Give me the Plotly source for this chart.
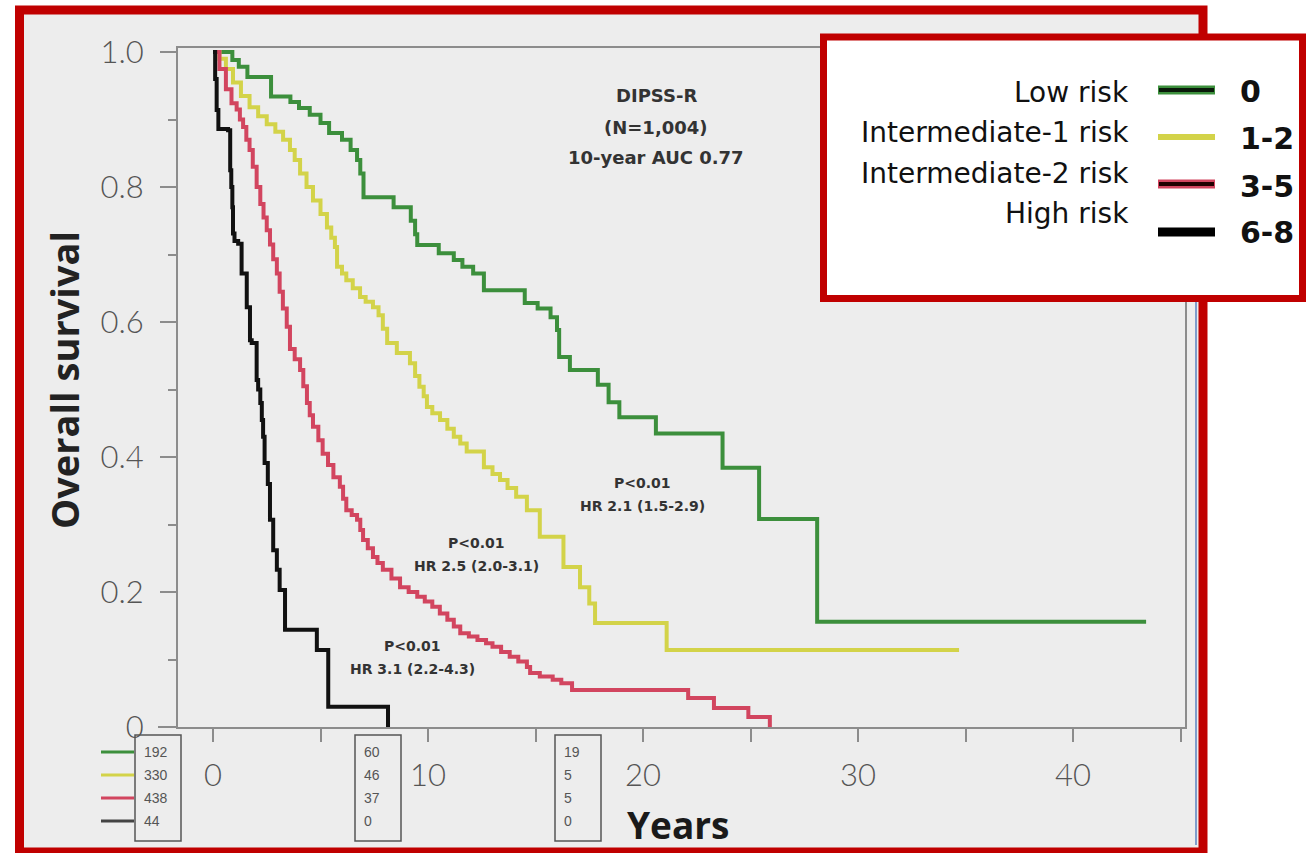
import plotly.graph_objects as go

# ---------------- data ----------------
green_t = [0, 0.9, 1.2, 1.6, 2.7, 3.6, 4.0, 4.5, 5.0, 5.4, 6.0, 6.4, 6.7, 6.85, 7.0,
           8.4, 9.2, 9.4, 9.5, 10.5, 11.2, 11.6, 12.1, 12.6, 14.5, 15.1, 15.7, 16.0,
           16.1, 16.6, 17.9, 18.4, 18.9, 20.6, 23.7, 25.4, 28.1, 43.4]
green_s = [1.0, 0.988, 0.978, 0.963, 0.934, 0.926, 0.917, 0.907, 0.895, 0.88, 0.87, 0.855,
           0.84, 0.82, 0.785, 0.77, 0.75, 0.73, 0.714, 0.702, 0.692, 0.682, 0.672, 0.647,
           0.628, 0.62, 0.607, 0.588, 0.548, 0.529, 0.507, 0.481, 0.459, 0.435, 0.384,
           0.308, 0.156, 0.156]

yellow_t = [0, 0.3, 0.6, 0.93, 1.3, 1.7, 2.1, 2.5, 2.9, 3.26, 3.58, 3.8, 4.05, 4.35, 4.65,
            5.0, 5.3, 5.5, 5.67, 5.77, 6.0, 6.2, 6.5, 6.84, 7.1, 7.44, 7.7, 7.9, 8.1, 8.55,
            9.16, 9.4, 9.6, 9.8, 9.95, 10.2, 10.56, 10.9, 11.2, 11.5, 11.8, 12.6, 13.0,
            13.35, 13.7, 14.1, 14.6, 15.2, 16.3, 17.07, 17.5, 17.77, 21.1, 34.7]
yellow_s = [1.0, 0.99, 0.975, 0.955, 0.935, 0.918, 0.905, 0.893, 0.882, 0.87, 0.855, 0.84,
            0.82, 0.8, 0.78, 0.76, 0.74, 0.725, 0.711, 0.682, 0.672, 0.662, 0.65, 0.637,
            0.63, 0.622, 0.61, 0.59, 0.569, 0.554, 0.539, 0.52, 0.504, 0.49, 0.474, 0.465,
            0.455, 0.442, 0.43, 0.42, 0.408, 0.385, 0.375, 0.366, 0.354, 0.341, 0.321,
            0.282, 0.237, 0.207, 0.183, 0.154, 0.114, 0.114]

red_t = [0, 0.3, 0.6, 0.86, 1.1, 1.25, 1.4, 1.55, 1.7, 1.85, 2.03, 2.2, 2.35, 2.5, 2.65,
         2.8, 2.97, 3.1, 3.25, 3.43, 3.58, 3.8, 4.05, 4.2, 4.37, 4.5, 4.65, 4.9, 5.1, 5.35,
         5.6, 5.9, 6.05, 6.2, 6.45, 6.7, 6.85, 6.98, 7.2, 7.44, 7.65, 7.9, 8.3, 8.7, 9.1,
         9.5, 9.85, 10.2, 10.55, 10.9, 11.2, 11.5, 11.9, 12.3, 12.7, 13.0, 13.4, 13.8,
         14.2, 14.6, 14.75, 15.2, 15.8, 16.2, 16.7, 22.1, 23.3, 24.9, 25.9]
red_s = [1.0, 0.975, 0.945, 0.924, 0.915, 0.9, 0.889, 0.87, 0.855, 0.83, 0.8, 0.775, 0.755,
         0.736, 0.715, 0.693, 0.672, 0.645, 0.62, 0.593, 0.56, 0.545, 0.529, 0.505, 0.48,
         0.462, 0.445, 0.425, 0.405, 0.388, 0.37, 0.356, 0.338, 0.321, 0.314, 0.307, 0.292,
         0.277, 0.265, 0.252, 0.243, 0.233, 0.22, 0.207, 0.2, 0.193, 0.186, 0.178, 0.168,
         0.159, 0.149, 0.139, 0.134, 0.129, 0.124, 0.119, 0.111, 0.104, 0.097, 0.089, 0.08,
         0.075, 0.07, 0.065, 0.055, 0.043, 0.028, 0.015, 0.0]

black_t = [0, 0.1, 0.17, 0.25, 0.7, 0.8, 0.85, 0.9, 0.93, 1.0, 1.17, 1.33, 1.57, 1.72, 1.8,
           2.03, 2.1, 2.2, 2.27, 2.33, 2.4, 2.55, 2.65, 2.8, 2.97, 3.1, 3.35, 4.83, 5.36, 8.14]
black_s = [1.0, 0.96, 0.914, 0.886, 0.884, 0.825, 0.8, 0.77, 0.731, 0.72, 0.716, 0.672,
           0.622, 0.573, 0.569, 0.514, 0.5, 0.48, 0.455, 0.43, 0.391, 0.36, 0.307, 0.262,
           0.233, 0.203, 0.144, 0.114, 0.03, 0.0]

risk_names = ["Low risk", "Intermediate-1 risk", "Intermediate-2 risk", "High risk"]
risk_scores = ["0", "1-2", "3-5", "6-8"]
at_risk_0 = [192, 330, 438, 44]
at_risk_10 = [60, 46, 37, 0]
at_risk_20 = [19, 5, 5, 0]

x_tick_vals = [0, 5, 10, 15, 20, 25, 30, 35, 40, 45]
x_tick_text = ["0", "", "10", "", "20", "", "30", "", "40", ""]
y_tick_vals = [0, 0.2, 0.4, 0.6, 0.8, 1.0]
y_tick_text = ["0", "0.2", "0.4", "0.6", "0.8", "1.0"]

hr_lines = [["P<0.01", "HR 2.1 (1.5-2.9)"], ["P<0.01", "HR 2.5 (2.0-3.1)"],
            ["P<0.01", "HR 3.1 (2.2-4.3)"]]
title_lines = ["DIPSS-R", "(N=1,004)", "10-year AUC 0.77"]

# ---------------- styling ----------------
colors = ["#3c8f3c", "#d3d349", "#d2455f", "#111111"]
W, H = 1306, 853
PL, PR, PT, PB = 178, 1185, 48, 727
X0PIX, XSCALE = 213, 21.5
YSCALE = 675


def px(x):
    return (x - PL) / (PR - PL)


def py(y):
    return (PB - y) / (PB - PT)


fig = go.Figure()
for t, s, c in [(green_t, green_s, colors[0]), (yellow_t, yellow_s, colors[1]),
                (red_t, red_s, colors[2]), (black_t, black_s, colors[3])]:
    fig.add_trace(go.Scatter(x=t, y=s, mode="lines", line=dict(color=c, width=4, shape="hv"),
                             showlegend=False, hoverinfo="skip"))

shapes = []
# grey slide background
shapes.append(dict(type="rect", xref="paper", yref="paper", x0=px(24), x1=px(1199),
                   y0=py(848), y1=py(14), fillcolor="#ededed", line=dict(width=0), layer="below"))
# blue slide edge
shapes.append(dict(type="line", xref="paper", yref="paper", x0=px(1196), x1=px(1196),
                   y0=py(845), y1=py(300), line=dict(color="#7f9dcc", width=2)))
# x axis extension to the left
shapes.append(dict(type="line", xref="paper", yref="paper", x0=px(158), x1=px(178),
                   y0=0, y1=0, line=dict(color="#8c8c8c", width=2)))
# red frame
shapes.append(dict(type="rect", xref="paper", yref="paper", x0=px(19.5), x1=px(1203),
                   y0=py(852), y1=py(10), line=dict(color="#c00000", width=9)))
# legend box
shapes.append(dict(type="rect", xref="paper", yref="paper", x0=px(823.5), x1=px(1302.5),
                   y0=py(298.5), y1=py(37), fillcolor="white", line=dict(color="#c00000", width=7)))

annotations = []
leg_label_y = [92, 132, 173, 213]
leg_line_y = [90, 137, 184, 232]
leg_num_y = [91, 138, 186, 232]
core = ["#0a1a0a", None, "#200000", None]
for i in range(4):
    shapes.append(dict(type="line", xref="paper", yref="paper", x0=px(1158), x1=px(1215),
                       y0=py(leg_line_y[i]), y1=py(leg_line_y[i]),
                       line=dict(color=colors[i] if i != 3 else "#000000", width=9 if i != 1 else 6)))
    if core[i]:
        shapes.append(dict(type="line", xref="paper", yref="paper", x0=px(1159), x1=px(1214),
                           y0=py(leg_line_y[i]), y1=py(leg_line_y[i]),
                           line=dict(color=core[i], width=4)))
    annotations.append(dict(xref="paper", yref="paper", x=px(1131), y=py(leg_label_y[i]),
                            text=risk_names[i], showarrow=False, xanchor="right", yanchor="middle",
                            font=dict(family="DejaVu Sans", size=28, color="#111")))
    annotations.append(dict(xref="paper", yref="paper", x=px(1238), y=py(leg_num_y[i]),
                            text=risk_scores[i], showarrow=False, xanchor="left", yanchor="middle",
                            font=dict(family="DejaVu Sans", size=30, color="#111", weight="bold")))

# number-at-risk boxes
box_left = [135, 355, 555]
box_data = [at_risk_0, at_risk_10, at_risk_20]
row_y = [752, 775, 798, 821]
for bl, vals in zip(box_left, box_data):
    shapes.append(dict(type="rect", xref="paper", yref="paper", x0=px(bl), x1=px(bl + 46),
                       y0=py(841), y1=py(735), line=dict(color="#555555", width=1.5)))
    for j, v in enumerate(vals):
        annotations.append(dict(xref="paper", yref="paper", x=px(bl + 7), y=py(row_y[j]),
                                text=str(v), showarrow=False, xanchor="left", yanchor="middle",
                                font=dict(family="Liberation Sans", size=14, color="#555")))
for j in range(4):
    shapes.append(dict(type="line", xref="paper", yref="paper", x0=px(101), x1=px(134),
                       y0=py(row_y[j]), y1=py(row_y[j]),
                       line=dict(color=colors[j] if j != 3 else "#444444", width=3)))

# text annotations
title_y = [96, 127, 157]
for ty, txt in zip(title_y, title_lines):
    annotations.append(dict(xref="paper", yref="paper", x=px(656), y=py(ty), text=txt,
                            showarrow=False, xanchor="center", yanchor="middle",
                            font=dict(family="DejaVu Sans", size=18, color="#333", weight="bold")))
hr_pos = [(642, 483), (476, 543), (412, 646)]
for (hx, hy), pair in zip(hr_pos, hr_lines):
    for k, txt in enumerate(pair):
        annotations.append(dict(xref="paper", yref="paper", x=px(hx), y=py(hy + 23 * k),
                                text=txt, showarrow=False, xanchor="center", yanchor="middle",
                                font=dict(family="DejaVu Sans", size=14, color="#333",
                                          weight="bold")))
annotations.append(dict(xref="paper", yref="paper", x=px(64), y=py(380), text="Overall survival",
                        textangle=-90, showarrow=False, xanchor="center", yanchor="middle",
                        font=dict(family="Open Sans", size=38, color="#222", weight="bold")))
annotations.append(dict(xref="paper", yref="paper", x=px(678), y=py(824), text="Years",
                        showarrow=False, xanchor="center", yanchor="middle",
                        font=dict(family="Open Sans", size=37, color="#1a1a1a", weight="bold")))

tickfont = dict(family="Lato", size=31, color="#555555", weight=300)
fig.update_layout(
    width=W, height=H, autosize=False,
    margin=dict(l=PL, r=W - PR, t=PT, b=H - PB, pad=0),
    paper_bgcolor="white", plot_bgcolor="rgba(0,0,0,0)",
    shapes=shapes, annotations=annotations, showlegend=False,
    xaxis=dict(range=[(PL - X0PIX) / XSCALE, (PR - X0PIX) / XSCALE], tickvals=x_tick_vals,
               ticktext=x_tick_text, ticks="outside", ticklen=13, tickwidth=1.5,
               tickcolor="#8c8c8c", showline=True, linecolor="#8c8c8c", linewidth=2,
               mirror=True, showgrid=False, zeroline=False, tickfont=tickfont,
               ticklabelstandoff=7),
    yaxis=dict(range=[0, (PB - PT) / YSCALE], tickvals=y_tick_vals, ticktext=y_tick_text,
               ticks="outside", ticklen=16, tickwidth=1.5, tickcolor="#8c8c8c",
               showline=True, linecolor="#8c8c8c", linewidth=2, mirror=True,
               showgrid=False, zeroline=False, tickfont=tickfont, ticklabelstandoff=10,
               minor=dict(tickvals=[0.1, 0.3, 0.5, 0.7, 0.9], ticks="outside", ticklen=8,
                          tickcolor="#8c8c8c", tickwidth=1.5, showgrid=False)),
)

fig.write_html("out.html")
